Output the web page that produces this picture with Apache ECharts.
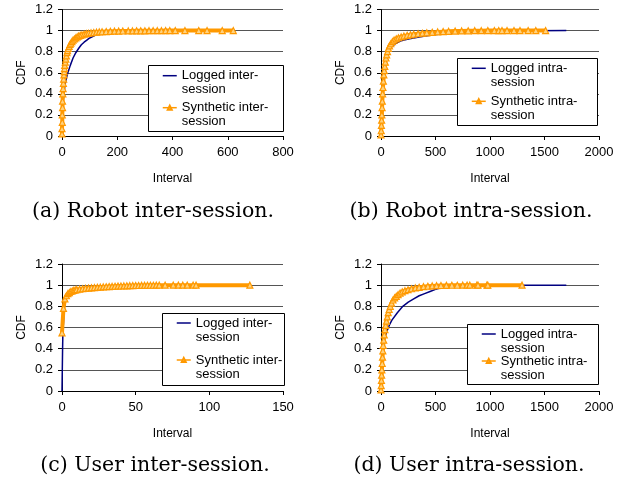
<!DOCTYPE html>
<html>
<head>
<meta charset="utf-8">
<script src="https://cdn.jsdelivr.net/npm/echarts@6/dist/echarts.min.js"></script>
<style>html,body{margin:0;padding:0;background:#fff}#c{width:623px;height:480px}</style>
</head>
<body>
<div id="c"></div>
<script>
// ---------- data ----------
const yTicks = [0, 0.2, 0.4, 0.6, 0.8, 1, 1.2];
const xMaxA = 800, xStepA = 200;
const xMaxB = 2000, xStepB = 500;
const xMaxC = 150, xStepC = 50;
const xMaxD = 2000, xStepD = 500;

const captions = ['(a) Robot inter-session.', '(b) Robot intra-session.', '(c) User inter-session.', '(d) User intra-session.'];
const loggedInterName = 'Logged inter-\nsession';
const syntheticInterName = 'Synthetic inter-\nsession';
const loggedIntraName = 'Logged intra-\nsession';
const syntheticIntraName = 'Synthetic intra-\nsession';

// (a) Robot inter-session
const robotInterLogged = [[0,0],[1,0.1],[2,0.2],[5,0.35],[10,0.47],[15,0.54],[20,0.59],[25,0.63],[30,0.67],[40,0.74],[50,0.79],[60,0.83],[70,0.865],[80,0.89],[90,0.91],[100,0.93],[120,0.955],[140,0.97],[160,0.98],[200,0.99],[250,0.995],[300,0.997],[400,0.999],[500,1],[620,1]];
const robotInterSynthetic = [[0,0.02],[0,0.07],[1,0.13],[1,0.2],[2,0.27],[2,0.33],[3,0.4],[4,0.45],[5,0.5],[6,0.54],[7,0.58],[8,0.61],[9,0.64],[10,0.67],[12,0.7],[14,0.73],[16,0.76],[18,0.79],[20,0.81],[23,0.83],[26,0.85],[29,0.87],[32,0.88],[36,0.895],[40,0.91],[45,0.92],[50,0.93],[55,0.94],[60,0.948],[66,0.955],[72,0.96],[80,0.966],[88,0.971],[96,0.975],[105,0.979],[115,0.982],[125,0.985],[135,0.987],[145,0.989],[160,0.991],[175,0.993],[190,0.994],[205,0.995],[220,0.996],[240,0.997],[255,0.997],[270,0.998],[285,0.998],[300,0.998],[315,0.999],[330,0.999],[345,0.999],[360,0.999],[375,1],[390,1],[410,1],[445,1],[495,1],[525,1],[580,1],[620,1]];

// (b) Robot intra-session
const robotIntraLogged = [[0,0],[5,0.2],[12,0.4],[25,0.6],[45,0.7],[70,0.8],[100,0.85],[140,0.88],[175,0.9],[250,0.92],[350,0.94],[450,0.955],[570,0.97],[700,0.98],[900,0.99],[1100,0.995],[1400,0.998],[1700,1]];
const robotIntraSynthetic = [[0,0.01],[2,0.05],[4,0.1],[6,0.15],[8,0.2],[10,0.27],[12,0.33],[15,0.4],[18,0.46],[22,0.52],[26,0.58],[30,0.62],[35,0.66],[40,0.7],[46,0.74],[52,0.77],[60,0.8],[68,0.83],[78,0.855],[90,0.875],[105,0.895],[120,0.91],[140,0.922],[160,0.932],[185,0.94],[210,0.948],[240,0.955],[270,0.96],[300,0.965],[340,0.97],[380,0.975],[420,0.979],[470,0.983],[520,0.987],[570,0.99],[620,0.993],[680,0.995],[740,0.997],[800,0.998],[860,0.999],[920,0.999],[980,1],[1040,1],[1080,1],[1110,1],[1156,1],[1220,1],[1275,1],[1350,1],[1420,1],[1510,1]];

// (c) User inter-session
const userInterLogged = [[0,0],[0.2,0.2],[0.4,0.4],[0.6,0.55],[1,0.65],[1.6,0.8],[2,0.84],[3,0.88],[5,0.92],[10,0.95],[20,0.97],[40,0.99],[60,0.997],[90,1],[127,1]];
const userInterSynthetic = [[0,0.55],[1,0.78],[2,0.87],[3,0.9],[4,0.92],[5,0.93],[6,0.94],[7,0.945],[8,0.95],[9,0.955],[10,0.958],[12,0.962],[14,0.966],[16,0.97],[18,0.972],[20,0.975],[22,0.977],[24,0.979],[26,0.981],[28,0.983],[30,0.985],[32,0.987],[34,0.988],[36,0.99],[38,0.991],[40,0.992],[42,0.993],[44,0.994],[46,0.995],[48,0.996],[50,0.997],[52,0.997],[54,0.998],[56,0.998],[58,0.999],[60,0.999],[62,0.999],[64,1],[66,1],[70,1],[75.5,1],[79,1],[82,1],[85,1],[89,1],[91,1],[127.5,1]];

// (d) User intra-session
const userIntraLogged = [[0,0],[5,0.15],[10,0.3],[20,0.42],[40,0.52],[60,0.58],[80,0.63],[100,0.67],[150,0.74],[200,0.8],[250,0.84],[300,0.87],[350,0.9],[400,0.92],[450,0.94],[500,0.96],[550,0.975],[600,0.985],[700,0.993],[800,0.997],[1000,0.999],[1300,1],[1700,1]];
const userIntraSynthetic = [[0,0.01],[2,0.05],[4,0.1],[6,0.15],[8,0.2],[11,0.26],[14,0.32],[17,0.38],[20,0.43],[25,0.48],[30,0.53],[36,0.58],[43,0.62],[50,0.66],[58,0.7],[66,0.74],[75,0.77],[85,0.8],[97,0.83],[110,0.86],[125,0.88],[140,0.895],[157,0.91],[175,0.925],[195,0.937],[220,0.948],[248,0.957],[280,0.966],[315,0.974],[350,0.98],[390,0.986],[430,0.99],[470,0.993],[510,0.995],[550,0.997],[600,0.998],[650,0.999],[700,0.999],[750,1],[790,1],[815,1],[880,1],[890,1],[972,1],[980,1],[1294,1]];

// ---------- layout / style ----------
const BLUE = '#000080', ORANGE = '#FF9900';
const panels = [
  {grid:{left:62, top:9.5, width:221, height:126.5}, xMax:xMaxA, xStep:xStepA, logged:robotInterLogged, synth:robotInterSynthetic, names:[loggedInterName, syntheticInterName],
   box:{x:148, y:65, w:135, h:66}, legend:{left:148, top:54.7, gap:-10}, caption:{x:153, y:212}},
  {grid:{left:381, top:9.5, width:218, height:126.5}, xMax:xMaxB, xStep:xStepB, logged:robotIntraLogged, synth:robotIntraSynthetic, names:[loggedIntraName, syntheticIntraName],
   box:{x:457, y:58, w:140, h:67}, legend:{left:457, top:47.3, gap:-9}, caption:{x:471, y:212}},
  {grid:{left:62, top:264, width:221, height:127}, xMax:xMaxC, xStep:xStepC, logged:userInterLogged, synth:userInterSynthetic, names:[loggedInterName, syntheticInterName],
   box:{x:162, y:313, w:122, h:72}, legend:{left:162, top:302, gap:-5}, caption:{x:155, y:466}},
  {grid:{left:381, top:264, width:218, height:127}, xMax:xMaxD, xStep:xStepD, logged:userIntraLogged, synth:userIntraSynthetic, names:[loggedIntraName, syntheticIntraName],
   box:{x:467, y:324, w:131, h:60}, legend:{left:467, top:313, gap:-15}, caption:{x:469, y:466}}
];

const FONT = 'Liberation Sans, Arial, sans-serif';
const LINE_ICON = 'path://M0,0H14V1.5H0Z';
const grids = [], xAxes = [], yAxes = [], series = [], legends = [], graphics = [];
panels.forEach((p, i) => {
  grids.push(Object.assign({containLabel:false}, p.grid));
  xAxes.push({
    type:'value', gridIndex:i, min:0, max:p.xMax, interval:p.xStep,
    name:'Interval', nameLocation:'middle', nameGap:37,
    nameTextStyle:{fontFamily:FONT, fontSize:12, color:'#000'},
    axisLine:{show:true, onZero:false, lineStyle:{color:'#000', width:1}},
    axisTick:{show:true, length:4, lineStyle:{color:'#000'}},
    axisLabel:{fontFamily:FONT, fontSize:13, color:'#000', margin:10, formatter:v => String(v)},
    splitLine:{show:false}
  });
  yAxes.push({
    type:'value', gridIndex:i, min:yTicks[0], max:yTicks[yTicks.length-1], interval:yTicks[1]-yTicks[0],
    name:'CDF', nameLocation:'middle', nameGap:34, nameRotate:90,
    nameTextStyle:{fontFamily:FONT, fontSize:12, color:'#000'},
    axisLine:{show:true, lineStyle:{color:'#000', width:1}},
    axisTick:{show:true, length:4, lineStyle:{color:'#000'}},
    axisLabel:{fontFamily:FONT, fontSize:13, color:'#000', margin:9},
    splitLine:{show:true, lineStyle:{color:'#555', width:1}}
  });
  series.push({
    type:'line', name:p.names[0], xAxisIndex:i, yAxisIndex:i, data:p.logged,
    symbol:'none', lineStyle:{color:BLUE, width:1.5}, itemStyle:{color:BLUE}, z:2, animation:false
  });
  series.push({
    type:'line', name:p.names[1], xAxisIndex:i, yAxisIndex:i, data:p.synth,
    symbol:'triangle', symbolSize:6, showSymbol:true, showAllSymbol:true,
    lineStyle:{color:ORANGE, width:4}, itemStyle:{color:'#FFD27F', borderColor:ORANGE, borderWidth:1.2}, z:3, animation:false
  });
  graphics.push({type:'rect', z:5, shape:{x:p.box.x+0.5, y:p.box.y+0.5, width:p.box.w, height:p.box.h},
    style:{fill:'#fff', stroke:'#000', lineWidth:1}});
  graphics.push({type:'text', z:5, x:p.caption.x, y:p.caption.y,
    style:{text:captions[i], font:'20.5px "DejaVu Serif", serif', fill:'#000', textAlign:'center', textVerticalAlign:'middle'}});
  legends.push({
    data:[{name:p.names[0], icon:LINE_ICON}, {name:p.names[1]}],
    left:p.legend.left, top:p.legend.top, orient:'vertical', z:6,
    padding:[0, 8, 0, 14], itemGap:p.legend.gap, itemWidth:14, itemHeight:5,
    backgroundColor:'transparent', borderWidth:0, selectedMode:false,
    formatter: name => '\n' + name,
    textStyle:{fontFamily:FONT, fontSize:13, color:'#000', lineHeight:14},
    lineStyle:{width:1.5}
  });
});

const chart = echarts.init(document.getElementById('c'), null, {renderer:'canvas'});
chart.setOption({
  animation:false,
  backgroundColor:'#fff',
  grid:grids, xAxis:xAxes, yAxis:yAxes, series:series, legend:legends,
  graphic:{elements:graphics}
});
</script>
</body>
</html>
